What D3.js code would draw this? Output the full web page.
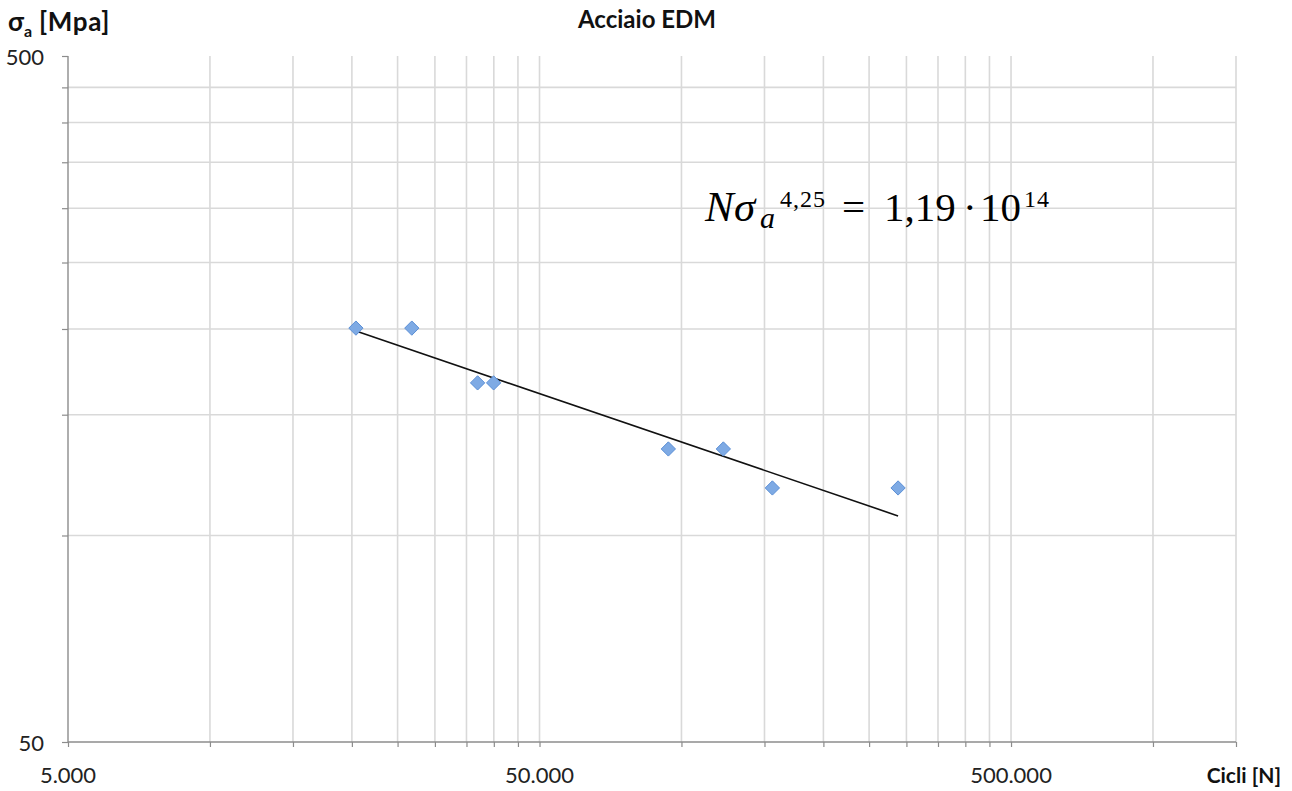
<!DOCTYPE html>
<html>
<head>
<meta charset="utf-8">
<script src="https://cdn.jsdelivr.net/npm/d3@7"></script>
<style>
html,body{margin:0;padding:0;background:#fff;}
svg{display:block;}
</style>
</head>
<body>
<svg id="chart" width="1292" height="791"></svg>
<script>
// ---- data ----
const cycles = [20400, 26800, 36950, 39960, 93800, 122700, 155900, 288000];
const stress = [200.6, 200.6, 166.9, 166.9, 133.7, 133.7, 117.3, 117.3];
const trendCycles = [20400, 288000];
const trendStress = [198.6, 106.8];
const xDomain = [5000, 1500000];
const yDomain = [50, 500];
const xTickValues = [5000, 50000, 500000];
const xTickLabels = ["5.000", "50.000", "500.000"];
const yTickValues = [50, 500];
const yTickLabels = ["50", "500"];
const xGridValues = [10000,15000,20000,25000,30000,35000,40000,45000,50000,
  100000,150000,200000,250000,300000,350000,400000,450000,500000,1000000,1500000];
const yGridValues = [100,150,200,250,300,350,400,450];
const title = "Acciaio EDM";
const xTitle = "Cicli [N]";

// ---- layout ----
const L = 68, R = 1236, T = 56, B = 742;
const svg = d3.select("#chart");
const x = d3.scaleLog().domain(xDomain).range([L, R]);
const y = d3.scaleLog().domain(yDomain).range([B, T]);
const font = "Lato, 'Open Sans', 'Liberation Sans', sans-serif";

// gridlines
svg.append("g").selectAll("line").data(yGridValues).join("line")
  .attr("x1", L).attr("x2", R).attr("y1", d => y(d)).attr("y2", d => y(d))
  .attr("stroke", "#d9d9d9").attr("stroke-width", 1.6);
svg.append("g").selectAll("line").data(xGridValues).join("line")
  .attr("x1", d => x(d)).attr("x2", d => x(d)).attr("y1", T).attr("y2", B)
  .attr("stroke", "#d9d9d9").attr("stroke-width", 1.6);

// axes
const xAxis = d3.axisBottom(x).tickValues([5000, ...xGridValues]).tickSize(5).tickFormat("");
const gx = svg.append("g").attr("transform", `translate(0,${B})`).call(xAxis);
gx.select(".domain").attr("stroke", "#8c8c8c").attr("stroke-width", 1.4).attr("d", `M${L},0H${R}`);
gx.selectAll(".tick line").attr("stroke", "#8c8c8c").attr("stroke-width", 1.2);
const yAxis = d3.axisLeft(y).tickValues([50, ...yGridValues, 500]).tickSize(6).tickFormat("");
const gy = svg.append("g").attr("transform", `translate(${L},0)`).call(yAxis);
gy.select(".domain").attr("stroke", "#8c8c8c").attr("stroke-width", 1.4).attr("d", `M0,${T}V${B}`);
gy.selectAll(".tick line").attr("stroke", "#8c8c8c").attr("stroke-width", 1.2);

// tick labels
svg.append("g").selectAll("text").data(xTickValues).join("text")
  .attr("x", d => x(d)).attr("y", 783).attr("text-anchor", "middle")
  .attr("font-family", font).attr("font-size", 22).attr("fill", "#222")
  .text((d, i) => xTickLabels[i]);
svg.append("g").selectAll("text").data(yTickValues).join("text")
  .attr("x", 44).attr("y", d => y(d) + 9).attr("text-anchor", "end")
  .attr("font-family", font).attr("font-size", 22).attr("fill", "#222")
  .text((d, i) => yTickLabels[i]);

// titles
svg.append("text").attr("x", 647).attr("y", 28).attr("text-anchor", "middle")
  .attr("font-family", font).attr("font-weight", "bold").attr("font-size", 24).attr("fill", "#111")
  .text(title);
svg.append("text").attr("x", 1281).attr("y", 783).attr("text-anchor", "end")
  .attr("font-family", font).attr("font-weight", "bold").attr("font-size", 21).attr("fill", "#111")
  .text(xTitle);
const yt = svg.append("text").attr("x", 8).attr("y", 31)
  .attr("font-family", font).attr("font-weight", "bold").attr("font-size", 26).attr("fill", "#111");
yt.append("tspan").text("σ");
yt.append("tspan").attr("font-size", 16).attr("dy", 6).text("a");
yt.append("tspan").attr("dy", -6).attr("letter-spacing", 0.6).text(" [Mpa]");

// trend line
const trend = trendCycles.map((c, i) => [c, trendStress[i]]);
svg.append("path").datum(trend)
  .attr("d", d3.line().x(d => x(d[0])).y(d => y(d[1])))
  .attr("stroke", "#111").attr("stroke-width", 1.6).attr("fill", "none");

// markers
const pts = cycles.map((c, i) => [c, stress[i]]);
svg.append("g").selectAll("path").data(pts).join("path")
  .attr("transform", d => `translate(${x(d[0])},${y(d[1])})`)
  .attr("d", d3.symbol().type(d3.symbolDiamond2).size(130))
  .attr("fill", "#7eaae4").attr("stroke", "#5b8fd6").attr("stroke-width", 1);

// equation
const eq = svg.append("text").attr("y", 221)
  .attr("font-family", "'Liberation Serif', 'DejaVu Serif', serif").attr("font-size", 41).attr("fill", "#000");
eq.append("tspan").attr("x", 705).attr("font-style", "italic").attr("font-size", 43).text("N");
eq.append("tspan").attr("x", 734).attr("font-style", "italic").attr("font-size", 43).text("σ");
eq.append("tspan").attr("x", 760).attr("font-style", "italic").attr("font-size", 30).attr("y", 228).text("a");
eq.append("tspan").attr("x", 780).attr("font-size", 24).attr("letter-spacing", 1).attr("y", 207).text("4,25");
eq.append("tspan").attr("x", 842).attr("y", 221).text("=");
eq.append("tspan").attr("x", 884).attr("y", 221).text("1,19");
eq.append("tspan").attr("x", 963).attr("y", 221).text("·");
eq.append("tspan").attr("x", 980).attr("y", 221).text("10");
eq.append("tspan").attr("x", 1024).attr("y", 207).attr("font-size", 24).attr("letter-spacing", 1).text("14");
</script>
</body>
</html>
